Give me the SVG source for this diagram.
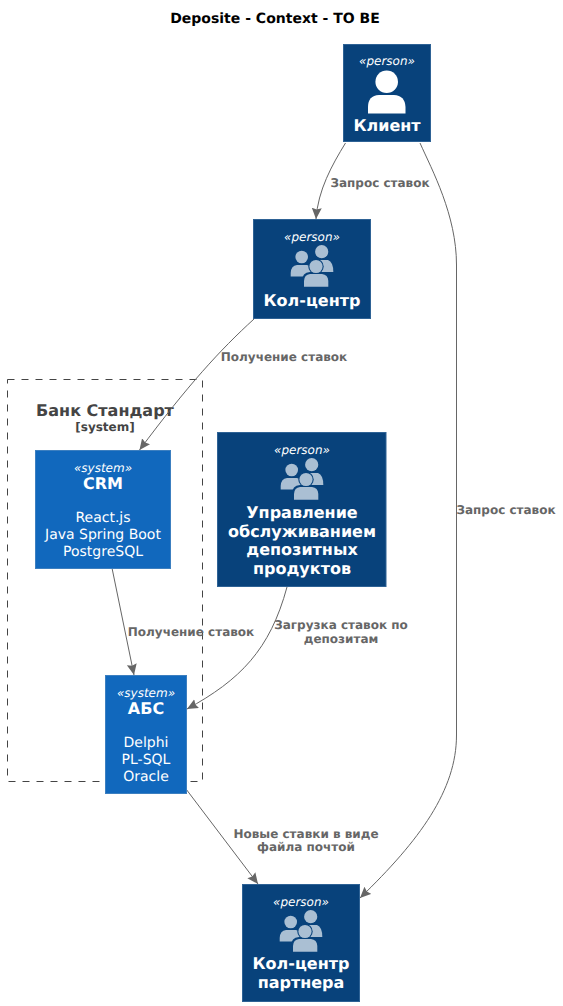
<svg xmlns="http://www.w3.org/2000/svg" xmlns:xlink="http://www.w3.org/1999/xlink" width="563" height="1006" viewBox="0 0 563 1006">
<style>
text{font-family:"DejaVu Sans",sans-serif;text-anchor:middle;text-rendering:geometricPrecision}
.person{fill:#08427B;stroke:#2E6295;stroke-width:1}
.sys{fill:#1168BD;stroke:#3C7FC0;stroke-width:1}
.st{font-size:12px;font-style:italic;fill:#fff}
.nm{font-size:16px;font-weight:bold;fill:#fff}
.tc{font-size:14px;fill:#fff}
.lb{font-size:12px;font-weight:bold;fill:#666}
.ln{fill:none;stroke:#666;stroke-width:1}
</style>
<defs>
<marker id="a" markerUnits="userSpaceOnUse" markerWidth="13" markerHeight="12" refX="11" refY="5" orient="auto"><path d="M0 0L11 5L0 10L1.500 5Z" fill="#666"/></marker>
<g id="grp">
<circle cx="11.700" cy="12" r="6.300" fill="#AABFD3"/>
<path d="M0.700 31.500V28Q1 20.500 7 20H17Q22 21 23 28V31.500Z" fill="#AABFD3"/>
<circle cx="31.700" cy="6.700" r="6.600" fill="#AABFD3"/>
<path d="M25 15H38Q43.300 17 43.300 27H20V18Q21 15 25 15Z" fill="#AABFD3"/>
<circle cx="26" cy="21.500" r="7.700" fill="#08427B"/>
<path d="M12 42V36Q12 27.500 20 27H32Q40 27.500 40 36V42Z" fill="#08427B"/>
<circle cx="26" cy="21.500" r="6.600" fill="#AABFD3"/>
<path d="M14 41.700V36Q14.300 29.500 20 29H32Q38 29.500 38.300 36V41.700Z" fill="#AABFD3"/>
</g>
</defs>
<text x="275" y="23" font-size="14" font-weight="bold" fill="#000">Deposite - Context - TO BE</text>
<g id="boundary">
<rect x="7.500" y="379.500" width="195" height="402" fill="none" stroke="#444" stroke-dasharray="7 7"/>
<text x="105" y="416" font-size="16" font-weight="bold" fill="#444">Банк Стандарт</text>
<text x="105" y="431" font-size="12" font-weight="bold" fill="#444">[system]</text>
</g>
<g id="connectors">
<path class="ln" marker-end="url(#a)" d="M345.500 143C332 165 318 190 316 219"/>
<path class="ln" marker-end="url(#a)" d="M420 143C432 170 456.500 215 456.500 265V735C456.500 790 420 840 360 898"/>
<path class="ln" marker-end="url(#a)" d="M254 319C220 350 188 385 139.500 450"/>
<path class="ln" marker-end="url(#a)" d="M112 568L134 675"/>
<path class="ln" marker-end="url(#a)" d="M287 587C270 650 240 680 187 709"/>
<path class="ln" marker-end="url(#a)" d="M186 789L258 884"/>
<text class="lb" x="380" y="187">Запрос ставок</text>
<text class="lb" x="506" y="514">Запрос ставок</text>
<text class="lb" x="284" y="361">Получение ставок</text>
<text class="lb" x="191" y="636">Получение ставок</text>
<text class="lb" x="341" y="629">Загрузка ставок по</text>
<text class="lb" x="341" y="643">депозитам</text>
<text class="lb" x="306" y="838">Новые ставки в виде</text>
<text class="lb" x="306" y="851">файла почтой</text>
</g>
<g id="client">
<rect class="person" x="343.500" y="44.500" width="87" height="97"/>
<text class="st" x="387" y="65">«person»</text>
<circle cx="386.700" cy="81.700" r="11.300" fill="#fff"/>
<path d="M368 113.500V107Q368 95.500 379 95H394Q405 95.500 405.500 107V113.500Z" fill="#fff"/>
<text class="nm" x="387" y="131">Клиент</text>
</g>
<g id="callcenter">
<rect class="person" x="253.500" y="219.500" width="117" height="99"/>
<text class="st" x="312" y="241">«person»</text>
<use xlink:href="#grp" x="290" y="245"/>
<text class="nm" x="312" y="306">Кол-центр</text>
</g>
<g id="management">
<rect class="person" x="217.500" y="432.500" width="168.500" height="154"/>
<text class="st" x="302" y="454">«person»</text>
<use xlink:href="#grp" x="280" y="458"/>
<text class="nm" x="302" y="518">Управление</text>
<text class="nm" x="302" y="537">обслуживанием</text>
<text class="nm" x="302" y="555">депозитных</text>
<text class="nm" x="302" y="574">продуктов</text>
</g>
<g id="crm">
<rect class="sys" x="35.500" y="450.500" width="135" height="118"/>
<text class="st" x="103" y="472">«system»</text>
<text class="nm" x="103" y="489">CRM</text>
<text class="tc" x="103" y="522">React.js</text>
<text class="tc" x="103" y="539">Java Spring Boot</text>
<text class="tc" x="103" y="556">PostgreSQL</text>
</g>
<g id="abs">
<rect class="sys" x="105.500" y="675.500" width="81" height="118"/>
<text class="st" x="146" y="697">«system»</text>
<text class="nm" x="146" y="714">АБС</text>
<text class="tc" x="146" y="747">Delphi</text>
<text class="tc" x="146" y="764">PL-SQL</text>
<text class="tc" x="146" y="781">Oracle</text>
</g>
<g id="partner">
<rect class="person" x="242.500" y="884.500" width="117" height="117"/>
<text class="st" x="301" y="906">«person»</text>
<use xlink:href="#grp" x="279" y="910"/>
<text class="nm" x="301" y="969">Кол-центр</text>
<text class="nm" x="301" y="988">партнера</text>
</g>
</svg>
